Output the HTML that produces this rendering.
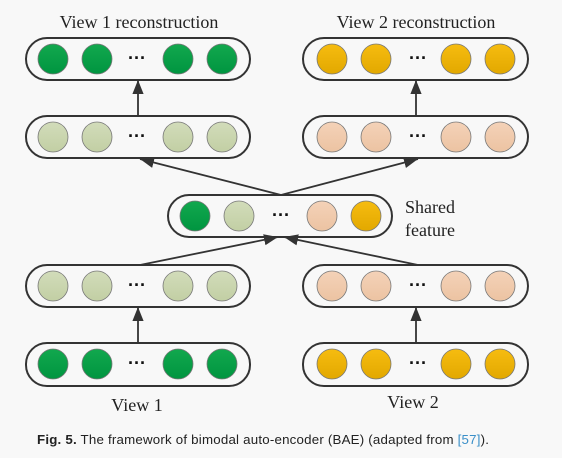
<!DOCTYPE html>
<html><head><style>body{margin:0;background:#f8f8f8}svg{display:block}</style></head><body>
<svg width="562" height="458" viewBox="0 0 562 458" xmlns="http://www.w3.org/2000/svg">
<defs>
<linearGradient id="dg" x1="0" y1="0" x2="0" y2="1"><stop offset="0" stop-color="#12a84e"/><stop offset="1" stop-color="#009540"/></linearGradient>
<linearGradient id="lg" x1="0" y1="0" x2="0" y2="1"><stop offset="0" stop-color="#d2dcba"/><stop offset="1" stop-color="#c2cfa4"/></linearGradient>
<linearGradient id="pg" x1="0" y1="0" x2="0" y2="1"><stop offset="0" stop-color="#f4d2b8"/><stop offset="1" stop-color="#ecc3a2"/></linearGradient>
<linearGradient id="og" x1="0" y1="0" x2="0" y2="1"><stop offset="0" stop-color="#f6bc10"/><stop offset="1" stop-color="#e2a800"/></linearGradient>
<marker id="ab" viewBox="0 0 10 10" refX="10" refY="5" markerWidth="14" markerHeight="14" orient="auto" markerUnits="userSpaceOnUse"><path d="M0,1 L10,5 L0,9 z" fill="#333"/></marker>
</defs>
<g fill="none" stroke="#333" stroke-width="2">
<rect x="26" y="38" width="224" height="42" rx="21"/>
<rect x="303" y="38" width="225" height="42" rx="21"/>
<rect x="26" y="116" width="224" height="42" rx="21"/>
<rect x="303" y="116" width="225" height="42" rx="21"/>
<rect x="168" y="195" width="224" height="42" rx="21"/>
<rect x="26" y="265" width="224" height="42" rx="21"/>
<rect x="303" y="265" width="225" height="42" rx="21"/>
<rect x="26" y="343" width="224" height="43" rx="21"/>
<rect x="303" y="343" width="225" height="43" rx="21"/>
</g>
<g stroke="#777" stroke-width="0.8">
<g fill="url(#dg)"><circle cx="53" cy="59" r="15"/><circle cx="97" cy="59" r="15"/><circle cx="178" cy="59" r="15"/><circle cx="222" cy="59" r="15"/>
<circle cx="53" cy="364" r="15"/><circle cx="97" cy="364" r="15"/><circle cx="178" cy="364" r="15"/><circle cx="222" cy="364" r="15"/>
<circle cx="195" cy="216" r="15"/></g>
<g fill="url(#lg)"><circle cx="53" cy="137" r="15"/><circle cx="97" cy="137" r="15"/><circle cx="178" cy="137" r="15"/><circle cx="222" cy="137" r="15"/>
<circle cx="53" cy="286" r="15"/><circle cx="97" cy="286" r="15"/><circle cx="178" cy="286" r="15"/><circle cx="222" cy="286" r="15"/>
<circle cx="239" cy="216" r="15"/></g>
<g fill="url(#pg)"><circle cx="332" cy="137" r="15"/><circle cx="376" cy="137" r="15"/><circle cx="456" cy="137" r="15"/><circle cx="500" cy="137" r="15"/>
<circle cx="332" cy="286" r="15"/><circle cx="376" cy="286" r="15"/><circle cx="456" cy="286" r="15"/><circle cx="500" cy="286" r="15"/>
<circle cx="322" cy="216" r="15"/></g>
<g fill="url(#og)"><circle cx="332" cy="59" r="15"/><circle cx="376" cy="59" r="15"/><circle cx="456" cy="59" r="15"/><circle cx="500" cy="59" r="15"/>
<circle cx="332" cy="364" r="15"/><circle cx="376" cy="364" r="15"/><circle cx="456" cy="364" r="15"/><circle cx="500" cy="364" r="15"/>
<circle cx="366" cy="216" r="15"/></g>
</g>
<g fill="#111" font-family="Liberation Sans" font-size="18" font-weight="bold" text-anchor="middle">
<text x="137" y="64">···</text><text x="418" y="64">···</text>
<text x="137" y="142">···</text><text x="418" y="142">···</text>
<text x="281" y="221">···</text>
<text x="137" y="291">···</text><text x="418" y="291">···</text>
<text x="137" y="369">···</text><text x="418" y="369">···</text></g>
<g stroke="#333" stroke-width="1.8" fill="none">
<line x1="138" y1="116" x2="138" y2="80" marker-end="url(#ab)"/>
<line x1="416" y1="116" x2="416" y2="80" marker-end="url(#ab)"/>
<line x1="138" y1="343" x2="138" y2="307" marker-end="url(#ab)"/>
<line x1="416" y1="343" x2="416" y2="307" marker-end="url(#ab)"/>
<line x1="281" y1="195" x2="140" y2="159" marker-end="url(#ab)"/>
<line x1="281" y1="195" x2="418" y2="159" marker-end="url(#ab)"/>
<line x1="140" y1="265" x2="278" y2="237" marker-end="url(#ab)"/>
<line x1="418" y1="265" x2="284" y2="237" marker-end="url(#ab)"/>
</g>
<g font-family="Liberation Serif" font-size="18" fill="#222">
<text x="139" y="28" text-anchor="middle">View 1 reconstruction</text>
<text x="416" y="28" text-anchor="middle">View 2 reconstruction</text>
<text x="405" y="213">Shared</text>
<text x="405" y="236">feature</text>
<text x="137" y="411" text-anchor="middle">View 1</text>
<text x="413" y="408" text-anchor="middle">View 2</text>
</g>
<text x="37" y="444" font-family="Liberation Sans" font-size="13.3" fill="#222" textLength="452"><tspan font-weight="bold">Fig. 5.</tspan> The framework of bimodal auto-encoder (BAE) (adapted from <tspan fill="#3a8fc8">[57]</tspan>).</text>
</svg>
</body></html>
